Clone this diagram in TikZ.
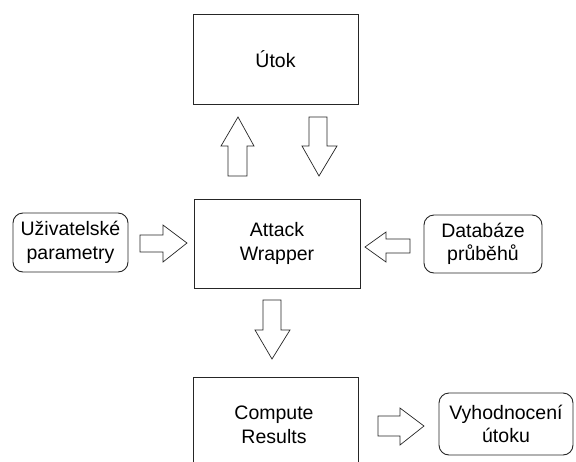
\documentclass[tikz,border=0pt]{standalone}
\usepackage{fontspec}
\setmainfont{Liberation Sans}
\begin{document}
\begin{tikzpicture}[x=1pt,y=-1pt,
  every node/.style={font=\fontsize{19.5}{23.5}\selectfont, text=black},
  box/.style={draw=black!85, line width=0.9pt, fill=white, inner sep=0pt},
  roundbox/.style={box, rounded corners=10pt, align=center},
  blockarrow/.style={draw=black!85, line width=0.7pt, fill=white, line join=miter}]
\useasboundingbox (0,0) rectangle (576,461);
\clip (0,0) rectangle (576,461);

% main blocks
\node[box, minimum width=165pt, minimum height=90pt] (utok) at (275.5,59) {Útok};
\node[box, minimum width=166pt, minimum height=89pt, align=center] (wrapper) at (277,243.5) {Attack\\Wrapper};
\node[box, minimum width=165pt, minimum height=140pt] (compute) at (275.5,447) {};
\node[align=center] (computetext) at (274,425) {Compute\\Results};

% side inputs and output
\node[roundbox, minimum width=115pt, minimum height=59pt] (params) at (70.5,242.5) {Uživatelské\\parametry};
\node[roundbox, minimum width=118pt, minimum height=58pt] (db) at (483,244) {Databáze\\průběhů};
\node[roundbox, minimum width=134pt, minimum height=62pt] (eval) at (506,424) {Vyhodnocení\\útoku};

% wrapper -> attack
\draw[blockarrow] (238,117) -- (254,146) -- (247,146) -- (247,176) -- (228,176) -- (228,146) -- (221,146) -- cycle;
% attack -> wrapper
\draw[blockarrow] (309,117) -- (327,117) -- (327,146) -- (337,146) -- (319,176) -- (302,146) -- (309,146) -- cycle;
% wrapper -> compute
\draw[blockarrow] (263,300) -- (281,300) -- (281,330) -- (290,330) -- (272,359) -- (255,330) -- (263,330) -- cycle;
% parameters -> wrapper
\draw[blockarrow] (140,235) -- (163,235) -- (163,225) -- (187,243) -- (163,262) -- (163,252) -- (140,252) -- cycle;
% database -> wrapper
\draw[blockarrow] (365,247) -- (386,232) -- (386,239) -- (410,239) -- (410,253) -- (386,253) -- (386,262) -- cycle;
% compute -> evaluation
\draw[blockarrow] (378,416) -- (400,416) -- (400,408) -- (424,426) -- (400,445) -- (400,436) -- (378,436) -- cycle;
\end{tikzpicture}
\end{document}
